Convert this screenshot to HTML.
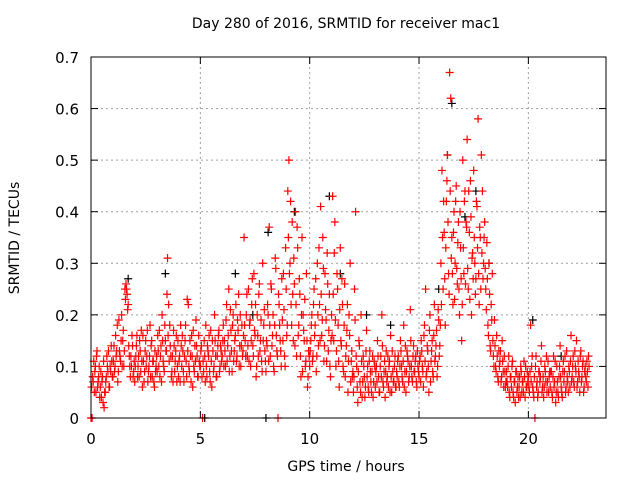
<!DOCTYPE html>
<html><head><meta charset="utf-8"><style>
body{margin:0;background:#fff;}
svg{display:block;font-family:"DejaVu Sans","Liberation Sans",sans-serif;}
</style></head><body>
<svg id="chart" width="640" height="480">
<text x="346" y="28" font-size="14" text-anchor="middle">Day 280 of 2016, SRMTID for receiver mac1</text>
<text x="346" y="471" font-size="14" text-anchor="middle">GPS time / hours</text>
<text transform="translate(19,238) rotate(-90)" font-size="14" text-anchor="middle">SRMTID / TECUs</text>
<g id="grid"></g><g id="ticks"></g><g id="marks"></g>
<rect x="91" y="57" width="515" height="361" fill="none" stroke="#000" stroke-width="1"/>
</svg>
<script>
const xTicks=[0,5,10,15,20];
const yTicks=[0,0.1,0.2,0.3,0.4,0.5,0.6,0.7];
const yTickLabels=["0","0.1","0.2","0.3","0.4","0.5","0.6","0.7"];
const redStart=0, redStep=0.05;
const redValues=[
0,0,.07,.05,.10,.12,.06,.08,.04,.09,.07,.03,.02,.05,.08,.10,.13,.06,.09,.11,
.08,.14,.10,.12,.18,.09,.13,.11,.20,.15,.10,.25,.26,.24,.22,.12,.08,.10,.14,.09,
.07,.12,.16,.10,.08,.13,.17,.06,.11,.09,.15,.12,.07,.10,.18,.14,.08,.11,.06,.09,
.12,.16,.10,.08,.14,.20,.11,.09,.15,.13,.31,.22,.18,.12,.09,.07,.14,.11,.16,.10,
.08,.12,.18,.10,.13,.07,.15,.11,.23,.22,.09,.12,.16,.06,.10,.14,.19,.12,.08,.11,
.10,.14,0,.09,.12,.18,.08,.13,.16,.07,.11,.15,.09,.20,.12,.08,.14,.17,.10,.13,
.12,.18,.15,.10,.22,.14,.25,.12,.17,.09,.20,.13,.16,.11,.19,.24,.14,.10,.18,.13,
.35,.15,.20,.12,.25,.18,.10,.22,.14,.28,.16,.08,.20,.12,.26,.15,.11,.30,.18,.13,
.09,.14,.20,.37,.12,.25,.16,.10,.18,.29,.13,0,.22,.15,.10,.19,.28,.12,.33,.16,
.44,.50,.30,.22,.38,.15,.26,.40,.12,.33,.18,.24,.08,.35,.20,.15,.10,.28,.06,.13,
.10,.15,.20,.12,.25,.18,.09,.30,.14,.22,.41,.16,.35,.11,.28,.19,.32,.13,.24,.08,
.20,.43,.15,.38,.10,.28,.18,.06,.33,.14,.22,.09,.26,.12,.17,.05,.20,.30,.11,.08,
.05,.25,.40,.10,.03,.15,.07,.20,.04,.12,.08,.06,.17,.10,.05,.13,.07,.09,.04,.11,
.06,.10,.15,.08,.05,.12,.20,.07,.09,.04,.13,.08,.06,.11,.16,.05,.09,.07,.12,.06,
.08,.12,.06,.15,.10,.07,.18,.09,.05,.13,.11,.08,.21,.10,.07,.14,.09,.12,.06,.10,
.08,.12,.15,.10,.06,.18,.25,.09,.13,.05,.20,.11,.15,.08,.22,.12,.17,.10,.19,.14,
.30,.48,.25,.36,.18,.42,.51,.28,.67,.62,.35,.22,.40,.30,.45,.26,.38,.20,.33,.15,
.50,.28,.44,.38,.54,.25,.36,.46,.20,.32,.48,.30,.27,.41,.58,.22,.35,.51,.44,.30,
.38,.25,.34,.18,.30,.14,.22,.28,.12,.19,.10,.16,.08,.13,.11,.07,.15,.09,.12,.06,
.09,.06,.12,.04,.08,.10,.05,.07,.03,.09,.06,.04,.08,.10,.05,.07,.11,.04,.06,.09,
.08,.05,.18,.10,.06,.04,0,.12,.07,.05,.09,.08,.14,.06,.04,.10,.07,.05,.11,.08,
.06,.09,.04,.12,.07,.03,.10,.05,.08,.14,.06,.04,.11,.09,.05,.13,.07,.10,.06,.16,
.08,.12,.06,.10,.15,.07,.09,.05,.13,.08,.11,.06,.10,.07,.09,.12];
const red2Start=0.025, red2Step=0.05;
const red2Values=[
.06,.08,.11,.09,.05,.13,.07,.10,.06,.04,.08,.11,.05,.07,.12,.09,.06,.10,.14,.08,
.11,.09,.16,.13,.07,.19,.12,.15,.10,.17,.13,.23,.25,.21,.14,.10,.12,.16,.08,.11,
.10,.14,.08,.12,.15,.09,.11,.16,.07,.13,.10,.17,.09,.12,.08,.15,.11,.07,.13,.10,
.09,.13,.17,.12,.07,.15,.10,.18,.13,.24,.16,.11,.14,.08,.12,.17,.09,.13,.07,.15,
.11,.07,.14,.16,.09,.12,.18,.08,.13,.10,.15,.07,.12,.17,.09,.11,.14,.08,.16,.10,
.13,.08,.11,.15,.07,.10,.14,.12,.09,.17,.06,.13,.10,.15,.08,.12,.16,.09,.14,.11,
.15,.10,.13,.19,.11,.16,.09,.21,.13,.18,.11,.15,.22,.12,.17,.10,.20,.14,.12,.16,
.18,.12,.24,.14,.11,.19,.15,.27,.12,.17,.22,.10,.16,.24,.13,.19,.09,.15,.21,.11,
.15,.22,.11,.18,.26,.14,.20,.09,.31,.16,.12,.24,.18,.13,.27,.15,.21,.10,.25,.18,
.35,.28,.42,.18,.24,.31,.14,.22,.37,.16,.27,.12,.20,.09,.17,.23,.11,.15,.08,.12,
.13,.18,.11,.22,.16,.27,.12,.20,.33,.15,.24,.19,.29,.14,.21,.11,.26,.17,.10,.15,
.16,.24,.32,.19,.13,.25,.11,.21,.15,.27,.10,.18,.08,.14,.22,.11,.16,.07,.13,.09,
.08,.19,.12,.06,.09,.14,.05,.11,.07,.10,.04,.13,.08,.06,.11,.09,.05,.12,.07,.10,
.09,.07,.12,.05,.10,.08,.14,.06,.11,.09,.07,.12,.10,.05,.08,.13,.07,.10,.06,.09,
.11,.07,.10,.13,.08,.11,.06,.14,.09,.12,.07,.10,.15,.08,.12,.09,.11,.07,.13,.09,
.11,.07,.13,.09,.16,.11,.08,.14,.10,.17,.07,.13,.09,.16,.11,.14,.08,.21,.12,.18,
.22,.35,.42,.27,.33,.46,.38,.24,.44,.31,.28,.36,.23,.42,.29,.34,.25,.40,.27,.22,
.33,.42,.26,.37,.29,.44,.23,.39,.31,.27,.35,.24,.42,.33,.28,.37,.25,.32,.27,.35,
.29,.21,.27,.16,.24,.13,.19,.15,.10,.14,.09,.12,.07,.10,.13,.08,.11,.06,.09,.07,
.07,.10,.05,.08,.06,.11,.04,.07,.09,.05,.08,.06,.04,.09,.07,.05,.08,.10,.06,.07,
.06,.09,.07,.12,.05,.08,.10,.06,.04,.09,.07,.11,.05,.08,.06,.09,.12,.07,.05,.09,
.09,.05,.08,.06,.11,.05,.07,.04,.10,.08,.05,.09,.07,.12,.06,.08,.05,.09,.11,.07,
.10,.07,.13,.09,.06,.11,.08,.12,.07,.10,.05,.09,.08,.11,.06,.10];
const blackTimes=[1.7,3.4,6.6,7.4,8.1,9.3,10.9,11.4,12.6,13.7,15.9,16.3,16.5,17.1,17.6,18.2,20.2,21.5,8.0,5.2];
const blackValues=[0.27,0.28,0.28,0.2,0.36,0.4,0.43,0.28,0.2,0.18,0.25,0.51,0.61,0.39,0.44,0.3,0.19,0.12,0,0];
const X0=91,X1=606,Y0=418,Y1=57,XMAX=23.55,YMAX=0.7;
function sx(v){return X0+v/XMAX*(X1-X0);}
function sy(v){return Y0-v/YMAX*(Y0-Y1);}
const NS="http://www.w3.org/2000/svg";
const grid=document.getElementById('grid'),ticks=document.getElementById('ticks'),marks=document.getElementById('marks');
function mk(tag,attrs,parent){const e=document.createElementNS(NS,tag);for(const k in attrs)e.setAttribute(k,attrs[k]);parent.appendChild(e);return e;}
xTicks.forEach(t=>{const x=sx(t);
 const g=mk('line',{x1:x,x2:x,y1:Y1,y2:Y0,stroke:'#a0a0a0','stroke-dasharray':'2,3'},grid);
 
 
 mk('line',{x1:x,x2:x,y1:Y0,y2:Y0-7,stroke:'#000'},ticks);
 mk('line',{x1:x,x2:x,y1:Y1,y2:Y1+7,stroke:'#000'},ticks);
 const l=mk('text',{x:x,y:Y0+26,'font-size':15,'text-anchor':'middle'},ticks);l.textContent=t;
 
 
});
yTicks.forEach((t,i)=>{const y=sy(t);
 const g=mk('line',{x1:X0,x2:X1,y1:y,y2:y,stroke:'#a0a0a0','stroke-dasharray':'2,3'},grid);
 
 
 mk('line',{x1:X0,x2:X0+7,y1:y,y2:y,stroke:'#000'},ticks);
 mk('line',{x1:X1,x2:X1-7,y1:y,y2:y,stroke:'#000'},ticks);
 const l=mk('text',{x:X0-12,y:y+6,'font-size':15,'text-anchor':'end'},ticks);l.textContent=yTickLabels[i];
 
 
});
function plus(x,y,c){const p=mk('path',{d:`M${x-4},${y}h8M${x},${y-4}v8`,stroke:c,'stroke-width':1.2,fill:'none'},marks);return p;}
blackTimes.forEach((t,i)=>{const p=plus(sx(t),sy(blackValues[i]),'#000');
 
 
});
redValues.forEach((v,i)=>{const p=plus(sx(redStart+i*redStep),sy(v),'#ff0000');
 
 
});
red2Values.forEach((v,i)=>{const p=plus(sx(red2Start+i*red2Step),sy(v),'#ff0000');
 
 
});
</script>
</body></html>
